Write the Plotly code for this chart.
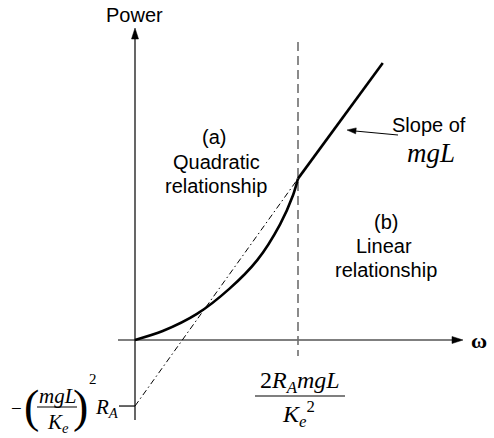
import plotly.graph_objects as go

# sketch units: omega at the break point = 1, power there = 1
omega_quad = [0, 0.17, 0.38, 0.58, 0.75, 0.89, 0.97, 1.0]
power_quad = [0, 0.055, 0.16, 0.315, 0.49, 0.71, 0.89, 0.99]
omega_lin = [1.0, 1.52]
power_lin = [0.99, 1.70]
omega_tan = [0, 1.0]
power_tan = [-0.405, 0.99]
omega_break = 1.0
power_offset = -0.405

S = 163.0  # px per unit
X0, Y0 = 135, 340  # origin in px
W, H = 494, 438

def X(px): return (px - X0) / S
def Y(py): return (Y0 - py) / S

SANS = "Liberation Sans, Arial, sans-serif"
SERIF = "Liberation Serif, Times New Roman, serif"

fig = go.Figure()
fig.add_trace(go.Scatter(x=omega_tan, y=power_tan, mode="lines",
                         line=dict(color="black", width=1, dash="6px,3px,1.5px,3px")))
fig.add_trace(go.Scatter(x=omega_quad, y=power_quad, mode="lines", line_shape="spline",
                         line=dict(color="black", width=2.6, smoothing=0.8)))
fig.add_trace(go.Scatter(x=omega_lin, y=power_lin, mode="lines",
                         line=dict(color="black", width=2.6)))

shapes = []
def line(x0, y0, x1, y1, **kw):
    shapes.append(dict(type="line", x0=x0, y0=y0, x1=x1, y1=y1, xref="x", yref="y",
                       line=dict(color=kw.get("color", "black"), width=kw.get("width", 1.2),
                                 dash=kw.get("dash", "solid")), layer="below"))

def head(xt, yt, ux, uy, length=11, half=3.5):
    # ux, uy direction in px with y up
    bx, by = xt - ux * length / S, yt - uy * length / S
    px, py = -uy * half / S, ux * half / S
    shapes.append(dict(type="path", xref="x", yref="y", fillcolor="black",
                       line=dict(color="black", width=0.5),
                       path=f"M{xt},{yt} L{bx+px},{by+py} L{bx-px},{by-py} Z"))

# axes
line(X(118), 0, X(463) - 8 / S, 0)
head(X(463), 0, 1, 0)
line(0, Y(420), 0, Y(28) - 8 / S)
head(0, Y(28), 0, 1)
# tick at the power offset
line(X(119), power_offset, 0, power_offset)
# break point dashed line
line(omega_break, Y(42), omega_break, Y(356), color="#6e6e6e", width=1.6, dash="9px,5px")
# slope arrow
line(X(398), Y(135), X(355), Y(131), width=1)
dx, dy = -(398 - 347), (135 - 130)
n = (dx * dx + dy * dy) ** 0.5
head(X(347), Y(130), dx / n, dy / n, length=9, half=3)
# fraction bars
line(X(255), Y(396), X(345), Y(396), width=1.2)
line(X(37), Y(407), X(77), Y(407), width=1.1)

ann = []
def text(s, px, py, size=20, font=SANS, **kw):
    ann.append(dict(text=s, x=X(px), y=Y(py), xref="x", yref="y", showarrow=False,
                    xanchor=kw.get("xanchor", "center"), yanchor="middle",
                    font=dict(size=size, family=font, color="black")))

text("Power", 134, 15)
text("<b>ω</b>", 479, 340, size=22, font=SERIF)
text("(a)", 214, 137)
text("Quadratic", 216, 162)
text("relationship", 216, 186)
text("(b)", 386, 222)
text("Linear", 384, 246)
text("relationship", 386, 270)
text("Slope of", 429, 125)
text("<i>mgL</i>", 431, 153, size=27, font=SERIF)
# omega at the break
text("2<i>R<sub>A</sub>mgL</i>", 300, 382, size=24, font=SERIF)
text("<i>K<sub>e</sub></i><sup>2</sup>", 298, 414, size=24, font=SERIF)
# power offset label
text("−", 16, 408, size=19, font=SERIF)
text("(", 31, 406, size=46, font=SERIF)
text(")", 80, 406, size=46, font=SERIF)
text("<i>mgL</i>", 57, 396, size=21, font=SERIF)
text("<i>K<sub>e</sub></i>", 58, 423, size=21, font=SERIF)
text("2", 93, 379, size=15, font=SERIF)
text("<i>R<sub>A</sub></i>", 107, 408, size=21, font=SERIF)

fig.update_layout(
    width=W, height=H, margin=dict(l=0, r=0, t=0, b=0),
    paper_bgcolor="white", plot_bgcolor="white", showlegend=False,
    xaxis=dict(range=[X(0), X(W)], visible=False, fixedrange=True),
    yaxis=dict(range=[Y(H), Y(0)], visible=False, fixedrange=True),
    shapes=shapes, annotations=ann,
)
fig.write_html("out.html", config={"displayModeBar": False},
               post_script="document.body.style.margin='0';")
